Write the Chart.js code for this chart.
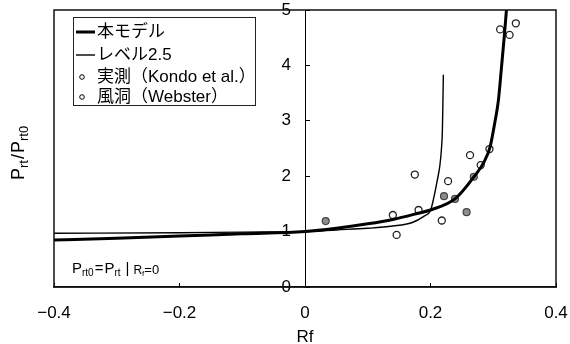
<!DOCTYPE html>
<html>
<head>
<meta charset="utf-8">
<script src="https://cdn.jsdelivr.net/npm/chart.js@4.4.1/dist/chart.umd.min.js"></script>
<style>
  html, body { margin: 0; padding: 0; background: #fff; }
  #wrap { width: 570px; height: 344px; }
</style>
</head>
<body>
<div id="wrap"><canvas id="chart" width="570" height="344"></canvas></div>
<script>
const FONT = '"Liberation Sans", "Noto Sans CJK JP", sans-serif';

// 本モデル (thick line)
const modelRf = [-0.4, -0.3, -0.2, -0.1, 0, 0.05, 0.1, 0.14, 0.18, 0.2, 0.24, 0.27, 0.285, 0.295, 0.303, 0.308, 0.313, 0.318, 0.321];
const modelPt = [0.85, 0.88, 0.92, 0.96, 1.0, 1.06, 1.14, 1.22, 1.33, 1.39, 1.6, 2.0, 2.25, 2.53, 3.0, 3.35, 3.95, 4.58, 5.0];

// レベル2.5 (thin line)
const levelRf = [-0.4, -0.2, -0.1, 0, 0.05, 0.1, 0.14, 0.17, 0.19, 0.2, 0.205, 0.21, 0.215, 0.2175, 0.219, 0.2205];
const levelPt = [0.97, 0.98, 0.99, 1.0, 1.03, 1.06, 1.10, 1.16, 1.28, 1.38, 1.6, 1.88, 2.2, 2.5, 2.85, 3.83];

// 実測 (Kondo et al.) - open circles
const kondoRf = [0.140, 0.146, 0.175, 0.181, 0.218, 0.228, 0.263, 0.280, 0.294, 0.311, 0.326, 0.336];
const kondoPt = [1.30, 0.94, 2.03, 1.39, 1.20, 1.91, 2.38, 2.20, 2.49, 4.65, 4.55, 4.76];

// 風洞 (Webster) - grey circles
const websterRf = [0.033, 0.2215, 0.239, 0.2575, 0.269];
const websterPt = [1.19, 1.64, 1.59, 1.35, 1.99];

const xTicks = [-0.4, -0.2, 0, 0.2, 0.4];
const yTicks = [0, 1, 2, 3, 4, 5];

function pairs(xs, ys) {
    return xs.map((x, i) => ({ x: x, y: ys[i] }));
}

// draws text with subscripts, parts = [text, size, dy, gap]
function drawRich(ctx, parts, x, y) {
    let cx = x;
    parts.forEach(p => {
        ctx.font = p[1] + 'px ' + FONT;
        ctx.fillText(p[0], cx, y + (p[2] || 0));
        cx += ctx.measureText(p[0]).width + (p[3] || 0);
    });
    return cx - x;
}

// axis label overflow should not shrink the plot area
function noPad(s) {
    s.paddingLeft = 0;
    s.paddingRight = 0;
    s.paddingTop = 0;
    s.paddingBottom = 0;
}

const decor = {
    id: 'decor',
    beforeDraw(chart) {
        // y labels sit just left of the Rf=0 axis line
        const items = chart.scales.y.getLabelItems(chart.chartArea);
        if (!items._moved) {
            const x0 = chart.scales.x.getPixelForValue(0);
            items.forEach(it => {
                it.options.translation[0] = x0 - 14;
                it.options.textAlign = 'right';
            });
            items._moved = true;
        }
    },
    afterDraw(chart) {
        const ctx = chart.ctx;
        const a = chart.chartArea;
        ctx.save();
        // plot frame
        ctx.strokeStyle = '#111';
        ctx.lineWidth = 1.5;
        ctx.strokeRect(a.left, a.top, a.right - a.left, a.bottom - a.top);

        // legend box
        ctx.lineWidth = 1;
        ctx.strokeStyle = '#222';
        ctx.strokeRect(73.5, 17.5, 182, 88);
        ctx.fillStyle = '#000';
        ctx.textBaseline = 'middle';
        ctx.font = '17px ' + FONT;
        const rows = [32, 55, 77, 97];
        chart.data.datasets.forEach((ds, i) => {
            const y = rows[i];
            if (ds.showLine) {
                ctx.strokeStyle = '#000';
                ctx.lineWidth = ds.borderWidth;
                ctx.beginPath();
                ctx.moveTo(76, y);
                ctx.lineTo(95, y);
                ctx.stroke();
            } else {
                ctx.strokeStyle = '#000';
                ctx.lineWidth = 1;
                ctx.beginPath();
                ctx.arc(82, y, 2.3, 0, Math.PI * 2);
                ctx.stroke();
            }
            ctx.fillText(ds.label, 97, y);
        });

        // formula note
        ctx.textBaseline = 'alphabetic';
        drawRich(ctx, [['P', 15], ['rt0', 10, 3, 1], ['=', 15, 0, 1], ['P', 15], ['rt', 10, 3, 5],
                       ['|', 15, 0, 4], ['R', 12, 1], ['f', 8, 3], ['=0', 13, 1]], 72, 273);

        // y axis title
        ctx.translate(24, 180);
        ctx.rotate(-Math.PI / 2);
        drawRich(ctx, [['P', 18], ['rt', 13, 4, 1], ['/', 18, 0, 1], ['P', 18], ['rt0', 13, 4]], 0, 0);
        ctx.restore();
    }
};

const ctx = document.getElementById('chart').getContext('2d');
const chart = new Chart(ctx, {
    type: 'scatter',
    data: {
        datasets: [{
            label: '本モデル',
            data: pairs(modelRf, modelPt),
            showLine: true,
            borderColor: '#000',
            borderWidth: 3,
            pointRadius: 0,
            cubicInterpolationMode: 'monotone',
            order: 0
        }, {
            label: 'レベル2.5',
            data: pairs(levelRf, levelPt),
            showLine: true,
            borderColor: '#000',
            borderWidth: 1.4,
            pointRadius: 0,
            cubicInterpolationMode: 'monotone',
            order: 0
        }, {
            label: '実測（Kondo et al.）',
            data: pairs(kondoRf, kondoPt),
            pointRadius: 3.5,
            pointBorderWidth: 1.3,
            pointBackgroundColor: '#fff',
            pointBorderColor: '#222',
            order: 1
        }, {
            label: '風洞（Webster）',
            data: pairs(websterRf, websterPt),
            pointRadius: 3.5,
            pointBorderWidth: 1.2,
            pointBackgroundColor: '#8c8c8c',
            pointBorderColor: '#444',
            order: 1
        }]
    },
    options: {
        responsive: false,
        animation: false,
        devicePixelRatio: 1,
        layout: { padding: { left: 54, right: 14, top: 10, bottom: 0 } },
        plugins: {
            legend: { display: false },
            tooltip: { enabled: false }
        },
        scales: {
            x: {
                type: 'linear',
                min: -0.4,
                max: 0.4,
                afterBuildTicks: s => { s.ticks = xTicks.map(v => ({ value: v })); },
                afterFit: s => { s.height = 57; noPad(s); },
                ticks: {
                    color: '#000',
                    padding: 20,
                    font: { family: FONT, size: 17 },
                    callback: v => v === 0 ? '0' : (v < 0 ? '\u2212' : '') + Math.abs(v).toFixed(1)
                },
                grid: { drawOnChartArea: false, tickLength: -4, color: '#000' },
                border: { color: '#000', width: 1.5 },
                title: {
                    display: true,
                    text: 'Rf',
                    color: '#000',
                    font: { family: FONT, size: 17 },
                    padding: { top: 0, bottom: -4 }
                }
            },
            y: {
                type: 'linear',
                min: 0,
                max: 5,
                position: { x: 0 },
                afterBuildTicks: s => { s.ticks = yTicks.map(v => ({ value: v })); },
                afterFit: s => { noPad(s); },
                ticks: {
                    color: '#000',
                    padding: 0,
                    font: { family: FONT, size: 17 },
                    callback: v => String(v)
                },
                grid: { drawOnChartArea: false, tickLength: -5, color: '#000' },
                border: { color: '#000', width: 1 }
            }
        }
    },
    plugins: [decor]
});
</script>
</body>
</html>
